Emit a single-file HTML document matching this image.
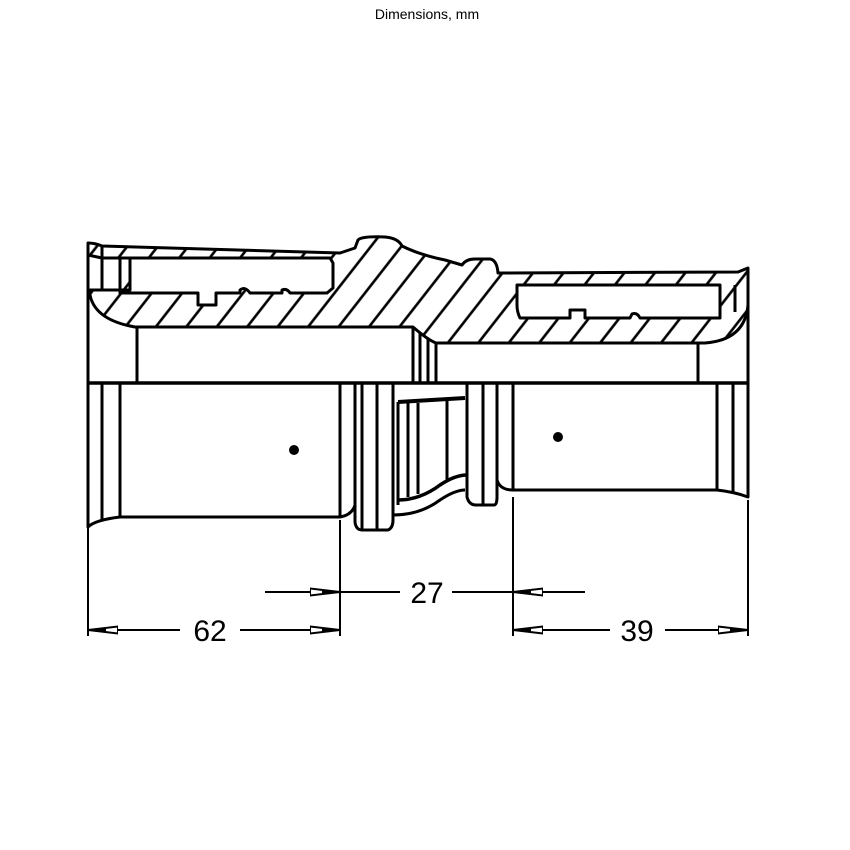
<!DOCTYPE html>
<html><head><meta charset="utf-8"><style>
html,body{margin:0;padding:0;background:#fff;}
svg{display:block;}
text{font-family:"Liberation Sans",sans-serif;fill:#000;}
</style></head><body>
<svg width="850" height="850" viewBox="0 0 850 850" xmlns="http://www.w3.org/2000/svg">
<defs>
<pattern id="h" width="24" height="24" patternUnits="userSpaceOnUse" patternTransform="rotate(38)">
<line x1="12" y1="-2" x2="12" y2="26" stroke="#000" stroke-width="2.6"/>
</pattern>
<marker id="ar" viewBox="0 0 30 10" refX="30" refY="5" markerWidth="30" markerHeight="10" markerUnits="userSpaceOnUse" orient="auto">
<path d="M0,1.5 L30,5 L0,8.5 Z" fill="#fff" stroke="#000" stroke-width="2"/>
<path d="M12,3.5 L30,5 L12,6.5 Z" fill="#000"/>
</marker>
</defs>
<text x="427" y="19" font-size="14" text-anchor="middle">Dimensions, mm</text>

<g fill="none" stroke="#000" stroke-width="3" stroke-linejoin="round">
<path fill="url(#h)" fill-rule="evenodd" d="
M88,243 Q95,243 102,246 L340,253 L355,248 L358,240 Q362,236 385,237 Q398,238 402,246 Q420,255 445,260 L462,265 Q466,259 475,259 L490,259 Q497,260 498,273 L738,272 L748,268 L748,305 Q745,340 705,343 L436,343 Q428,340 413,327 L135,327 Q95,320 90,295 L90,290 L110,290 L130,290 L130,258 L102,258 L88,255 Z
M120,258 L330,258 L333,263 L333,288 L327,293 L290,293 Q287,288 282,290 L282,293 L250,293 Q245,286 240,290 L240,293 L216,293 L216,305 L198,305 L198,293 L120,293 Z
M517,285 L720,285 L720,318 L640,318 Q637,312 632,314 L630,318 L585,318 L585,310 L570,310 L570,318 L520,318 Q517,312 517,305 Z"/>
<line x1="88" y1="243" x2="88" y2="517"/>
<line x1="102" y1="246" x2="102" y2="290"/>
<line x1="120" y1="258" x2="120" y2="290"/>
<line x1="137" y1="327" x2="137" y2="383"/>
<line x1="748" y1="268" x2="748" y2="497"/>
<line x1="735" y1="285" x2="735" y2="312"/>
<line x1="698" y1="343" x2="698" y2="383"/>
<line x1="413" y1="327" x2="413" y2="383"/>
<line x1="420" y1="332" x2="420" y2="383"/>
<line x1="428" y1="339" x2="428" y2="383"/>
<line x1="436" y1="343" x2="436" y2="383"/>
<line x1="88" y1="383" x2="748" y2="383" stroke-width="3.5"/>
<path d="M88,383 L88,527 Q95,520 120,517 L340,517 Q352,515 355,505"/>
<line x1="102" y1="383" x2="102" y2="520"/>
<line x1="120" y1="383" x2="120" y2="517"/>
<line x1="340" y1="383" x2="340" y2="517"/>
<path d="M355,383 L355,522 Q356,530 362,530 L388,530 Q393,528 393,520 L393,383"/>
<line x1="362" y1="383" x2="362" y2="530"/>
<line x1="377" y1="383" x2="377" y2="530"/>
<path d="M398,505 L398,402"/>
<path d="M398,500 Q420,500 440,485 Q455,475 467,475" stroke-width="3.5"/>
<path d="M393,515 Q420,515 440,500 Q455,490 465,490"/>
<line x1="398" y1="402" x2="465" y2="398" stroke-width="4"/>
<line x1="408" y1="403" x2="408" y2="497"/>
<line x1="418" y1="403" x2="418" y2="494"/>
<line x1="447" y1="400" x2="447" y2="482"/>
<path d="M467,383 L467,497 Q469,505 476,505 L494,505 Q497,505 497,497 L497,383"/>
<line x1="483" y1="383" x2="483" y2="505"/>
<path d="M497,480 Q500,490 513,490 L717,490 Q735,492 748,497 L748,383"/>
<line x1="513" y1="383" x2="513" y2="490"/>
<line x1="717" y1="383" x2="717" y2="490"/>
<line x1="733" y1="383" x2="733" y2="494"/>
</g>
<circle cx="294" cy="450" r="5" fill="#000"/>
<circle cx="558" cy="437" r="5" fill="#000"/>

<g stroke="#000" stroke-width="2" fill="none">
<line x1="88" y1="527" x2="88" y2="636"/>
<line x1="340" y1="520" x2="340" y2="636"/>
<line x1="513" y1="497" x2="513" y2="636"/>
<line x1="748" y1="500" x2="748" y2="636"/>
<line x1="180" y1="630" x2="88" y2="630" marker-end="url(#ar)"/>
<line x1="240" y1="630" x2="340" y2="630" marker-end="url(#ar)"/>
<line x1="265" y1="592" x2="340" y2="592" marker-end="url(#ar)"/>
<line x1="340" y1="592" x2="400" y2="592"/>
<line x1="452" y1="592" x2="513" y2="592"/>
<line x1="585" y1="592" x2="513" y2="592" marker-end="url(#ar)"/>
<line x1="610" y1="630" x2="513" y2="630" marker-end="url(#ar)"/>
<line x1="665" y1="630" x2="748" y2="630" marker-end="url(#ar)"/>
</g>
<text x="210" y="641" font-size="30" text-anchor="middle">62</text>
<text x="427" y="603" font-size="30" text-anchor="middle">27</text>
<text x="637" y="641" font-size="30" text-anchor="middle">39</text>
</svg>
</body></html>
